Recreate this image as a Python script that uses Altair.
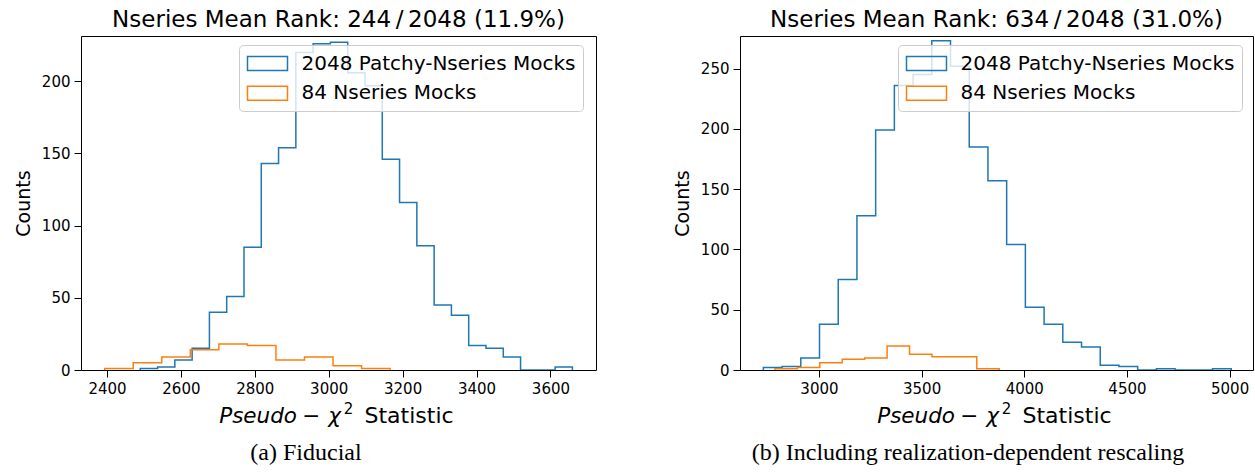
import altair as alt
import pandas as pd

BLUE = "#1f77b4"
ORANGE = "#ff7f0e"
SERIES = ["2048 Patchy-Nseries Mocks", "84 Nseries Mocks"]

# ---- Panel (a): Fiducial ----
a_title = "Nseries Mean Rank: 244\u2009/\u20092048 (11.9%)"
a_caption = "(a) Fiducial"
a_blue_range = [2490.1, 3659.5]
a_blue_counts = [1, 2, 7, 15, 40, 51, 85, 143, 154, 220, 226, 227, 206, 197,
                 146, 116, 86, 45, 38, 17, 15, 9, 0, 0, 2]
a_orange_range = [2393.8, 3166.2]
a_orange_counts = [1, 5, 9, 14, 18, 17, 7, 9, 3, 1]
a_xdomain = [2329.7, 3723.3]
a_ydomain = [0, 231.4]
a_xticks = [2400, 2600, 2800, 3000, 3200, 3400, 3600]
a_yticks = [0, 50, 100, 150, 200]

# ---- Panel (b): realization-dependent rescaling ----
b_title = "Nseries Mean Rank: 634\u2009/\u20092048 (31.0%)"
b_caption = "(b) Including realization-dependent rescaling"
b_blue_range = [2729.4, 5008.0]
b_blue_counts = [2, 3, 10, 38, 75, 128, 199, 236, 245, 273, 252, 185, 157, 104,
                 52, 38, 23, 19, 4, 3, 0, 1, 0, 0, 1]
b_orange_range = [2785.9, 3878.0]
b_orange_counts = [1, 2, 6, 9, 10, 20, 13, 11, 11, 1]
b_xdomain = [2615.6, 5114.0]
b_ydomain = [0, 277.0]
b_xticks = [3000, 3500, 4000, 4500, 5000]
b_yticks = [0, 50, 100, 150, 200, 250]

# x-axis label pieces (mathtext-like)
XL_ITALIC = "Pseudo"
XL_MINUS = "\u2212"
XL_CHI = "\u03c7"
XL_SUP = "2"
XL_WORD = "Statistic"

H = 334
FONT = "DejaVu Sans"


def step_df(rng, counts, series):
    lo, hi = rng
    n = len(counts)
    w = (hi - lo) / n
    xs = [lo] + [lo + i * w for i in range(n)] + [hi]
    ys = [0] + list(counts) + [0]
    return pd.DataFrame({"x": xs, "y": ys, "order": list(range(len(xs))),
                         "series": series})


def txt(df, field, x, y, size, align="center", style="normal",
        font=FONT):
    return alt.Chart(df).mark_text(
        align=align, baseline="alphabetic", fontSize=size, font=font,
        fontStyle=style, color="black"
    ).encode(text=f"{field}:N", x=alt.value(x), y=alt.value(y))


def panel(blue_rng, blue_c, or_rng, or_c, xdom, ydom, xticks, yticks, width,
          title, caption, cap_x):
    df = pd.concat([step_df(blue_rng, blue_c, SERIES[0]),
                    step_df(or_rng, or_c, SERIES[1])], ignore_index=True)
    lines = alt.Chart(df).mark_line(
        interpolate="step-after", strokeWidth=1.5, clip=True
    ).encode(
        x=alt.X("x:Q", scale=alt.Scale(domain=xdom, nice=False, zero=False),
                axis=alt.Axis(values=xticks, title=None, format="d")),
        y=alt.Y("y:Q", scale=alt.Scale(domain=ydom, nice=False, zero=True),
                axis=alt.Axis(values=yticks, title="Counts", format="d")),
        color=alt.Color(
            "series:N",
            scale=alt.Scale(domain=SERIES, range=[BLUE, ORANGE]),
            legend=alt.Legend(
                title=None, orient="none", legendX=158, legendY=9,
                direction="vertical",
                symbolType="M-1,-0.7H3V0.7H-1Z", symbolSize=400,
                symbolStrokeWidth=1.5, symbolFillColor="transparent",
                labelFontSize=20, labelFont=FONT, labelColor="black",
                labelOffset=33, fillColor="rgba(255,255,255,0.8)",
                strokeColor="#cccccc", cornerRadius=4, padding=7.5,
                rowPadding=8.7, labelLimit=0,
            ),
        ),
        order="order:Q",
    )
    lab = pd.DataFrame({"p": [XL_ITALIC], "m": [XL_MINUS], "c": [XL_CHI],
                        "s": [XL_SUP], "w": [XL_WORD], "cap": [caption]})
    cx = width / 2
    yb = H + 53
    parts = [
        txt(lab, "p", cx - 41.5, yb, 21.5, align="right", style="italic"),
        txt(lab, "m", cx - 27.5, yb, 21.5),
        txt(lab, "c", cx - 4, yb, 21.5, style="italic"),
        txt(lab, "s", cx + 10, yb - 9, 15),
        txt(lab, "w", cx + 26, yb, 22, align="left"),
        txt(lab, "cap", cap_x, H + 90, 24, font="Liberation Serif"),
    ]
    return alt.layer(lines, *parts).properties(
        width=width, height=H,
        title=alt.TitleParams(title, fontSize=23, font=FONT,
                              fontWeight="normal", anchor="middle",
                              baseline="bottom", offset=-19, frame="group",
                              color="black"),
    )


left = panel(a_blue_range, a_blue_counts, a_orange_range, a_orange_counts,
             a_xdomain, a_ydomain, a_xticks, a_yticks, 515, a_title,
             a_caption, 225)
right = panel(b_blue_range, b_blue_counts, b_orange_range, b_orange_counts,
              b_xdomain, b_ydomain, b_xticks, b_yticks, 513, b_title,
              b_caption, 228)

chart = alt.hconcat(left, right, spacing=144, bounds="flush").resolve_scale(
    color="independent", x="independent", y="independent"
).resolve_legend(color="independent").properties(
    padding={"left": 13, "top": 8, "right": 0, "bottom": 0},
    background="white",
).configure_view(
    stroke="black", strokeWidth=1
).configure_axis(
    grid=False, domain=False, tickColor="black", tickSize=7, tickWidth=1,
    labelColor="black", labelFont=FONT, labelFontSize=15, labelPadding=4,
    titleColor="black", titleFont=FONT, titleFontSize=19,
    titleFontWeight="normal", titlePadding=8,
)

chart.save("out.html", embed_options={"renderer": "svg", "actions": False})
